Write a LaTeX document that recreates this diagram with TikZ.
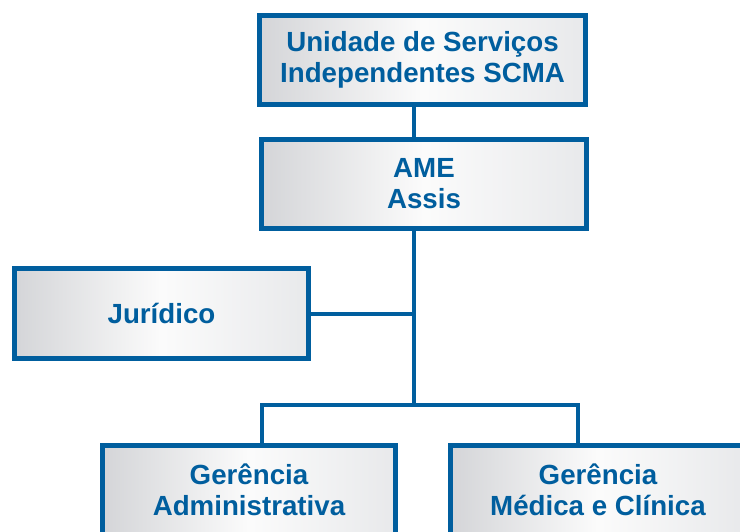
\documentclass[tikz,border=0pt]{standalone}
\usepackage{fontspec}
\setmainfont{Liberation Sans}
\definecolor{orgblue}{RGB}{0,94,158}
\definecolor{boxdark}{RGB}{212,213,216}
\definecolor{boxlight}{RGB}{232,233,235}
\tikzset{
  orgbox/.style={draw=orgblue, line width=5pt, rectangle, inner sep=0pt,
    left color=boxdark, right color=boxlight, middle color=white!97!gray,
    align=center, text=orgblue,
    font=\fontsize{27.7}{31}\selectfont\bfseries},
  orgline/.style={draw=orgblue, line width=4pt}
}
\begin{document}
\begin{tikzpicture}[x=1pt,y=-1pt]
\useasboundingbox (0,0) rectangle (740,531);
\node[orgbox, minimum width=326pt, minimum height=89pt] (top) at (422.5,60) {Unidade de Serviços\\Independentes SCMA};
\node[orgbox, minimum width=325pt, minimum height=89pt] (ame) at (424,184) {AME\\Assis};
\node[orgbox, minimum width=294pt, minimum height=90pt] (jur) at (161.5,313.5) {Jurídico};
\node[orgbox, minimum width=293pt, minimum height=89pt] (adm) at (249,490) {Gerência\\Administrativa};
\node[orgbox, minimum width=295pt, minimum height=89pt] (med) at (598,490) {Gerência\\Médica e Clínica};
\coordinate (spine) at (414,405);
\coordinate (busL) at (262,405);
\coordinate (busR) at (578,405);
\draw[orgline] (top.south -| spine) -- (ame.north -| spine);
\draw[orgline] (ame.south -| spine) -- (spine);
\draw[orgline] (jur.east) -- (jur.east -| spine);
\draw[orgline] (adm.north -| busL) |- (busR) -- (med.north -| busR);
\end{tikzpicture}
\end{document}
